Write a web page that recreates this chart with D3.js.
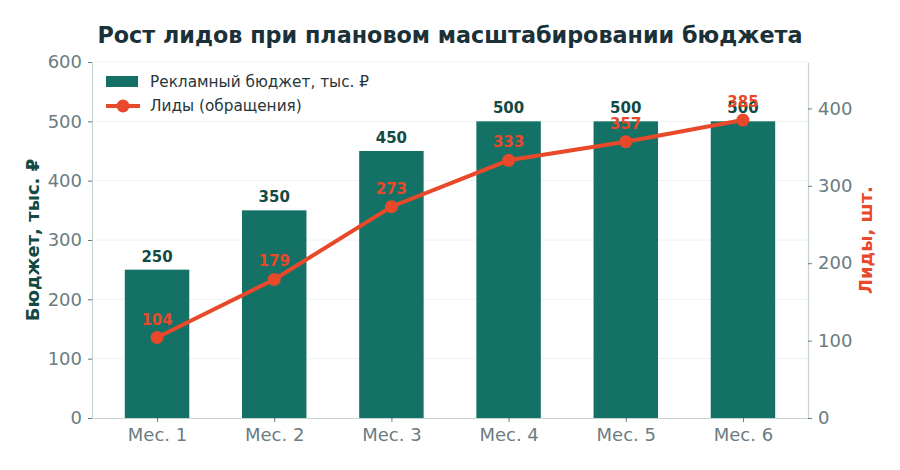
<!DOCTYPE html>
<html>
<head>
<meta charset="utf-8">
<script src="https://cdn.jsdelivr.net/npm/d3@7"></script>
<style>
  body { margin: 0; background: #fff; }
  svg { font-family: 'DejaVu Sans', sans-serif; }
</style>
</head>
<body>
<div class="chart"></div>
<script>
const months = ['Мес. 1', 'Мес. 2', 'Мес. 3', 'Мес. 4', 'Мес. 5', 'Мес. 6'];
const budget = [250, 350, 450, 500, 500, 500];
const leads = [104, 179, 273, 333, 357, 385];
const budgetTicks = [0, 100, 200, 300, 400, 500, 600];
const leadTicks = [0, 100, 200, 300, 400];

const width = 900;
const height = 470;
const margin = { top: 62, right: 92, bottom: 52, left: 92 };
const innerW = width - margin.left - margin.right;
const innerH = height - margin.top - margin.bottom;

const barColor = '#137265';
const lineColor = '#e8492b';
const tickColor = '#6b7c82';
const spineColor = '#c5d3d1';

const svg = d3
  .select('.chart')
  .append('svg')
  .attr('width', width)
  .attr('height', height);

const g = svg.append('g').attr('transform', `translate(${margin.left}, ${margin.top})`);

// x is linear over index, like matplotlib's categorical axis
const x = d3.scaleLinear().domain([-0.555, months.length - 1 + 0.555]).range([0, innerW]);
const step = x(1) - x(0);
const barW = step * 0.55;

const yL = d3.scaleLinear().domain([0, 600]).range([innerH, 0]);
const yR = d3.scaleLinear().domain([0, 460]).range([innerH, 0]);

// grid
g.selectAll('line.grid')
  .data(budgetTicks.slice(1))
  .enter()
  .append('line')
  .attr('x1', 0)
  .attr('x2', innerW)
  .attr('y1', (d) => yL(d))
  .attr('y2', (d) => yL(d))
  .attr('stroke', '#eef2f1')
  .attr('stroke-width', 1);

// bars
g.selectAll('rect.bar')
  .data(budget)
  .enter()
  .append('rect')
  .attr('x', (d, i) => x(i) - barW / 2)
  .attr('y', (d) => yL(d))
  .attr('width', barW)
  .attr('height', (d) => innerH - yL(d))
  .attr('fill', barColor);

// axes
const styleAxis = (sel) => {
  sel.select('.domain').attr('stroke', spineColor).attr('stroke-width', 1.2);
  sel.selectAll('.tick line').attr('stroke', tickColor);
  sel.selectAll('.tick text').attr('fill', tickColor).attr('font-size', '18px')
    .attr('font-family', "'DejaVu Sans', sans-serif");
};

g.append('g')
  .attr('transform', `translate(0, ${innerH})`)
  .call(d3.axisBottom(x).tickValues(d3.range(months.length)).tickFormat((i) => months[i])
    .tickSize(4).tickPadding(6).tickSizeOuter(0))
  .call(styleAxis);

g.append('g')
  .call(d3.axisLeft(yL).tickValues(budgetTicks).tickSize(4).tickPadding(6).tickSizeOuter(0))
  .call(styleAxis);

g.append('g')
  .attr('transform', `translate(${innerW}, 0)`)
  .call(d3.axisRight(yR).tickValues(leadTicks).tickSize(4).tickPadding(6).tickSizeOuter(0))
  .call(styleAxis);

// line
const line = d3.line().x((d, i) => x(i)).y((d) => yR(d));

g.append('path')
  .datum(leads)
  .attr('d', line)
  .attr('fill', 'none')
  .attr('stroke', lineColor)
  .attr('stroke-width', 4);

g.selectAll('circle.pt')
  .data(leads)
  .enter()
  .append('circle')
  .attr('cx', (d, i) => x(i))
  .attr('cy', (d) => yR(d))
  .attr('r', 6.5)
  .attr('fill', lineColor);

// bar value labels
g.selectAll('text.bval')
  .data(budget)
  .enter()
  .append('text')
  .attr('x', (d, i) => x(i))
  .attr('y', (d) => yL(d) - 8)
  .attr('text-anchor', 'middle')
  .attr('font-size', '15px')
  .attr('font-weight', 'bold')
  .attr('fill', '#134a43')
  .text((d) => d);

// lead value labels
g.selectAll('text.lval')
  .data(leads)
  .enter()
  .append('text')
  .attr('x', (d, i) => x(i))
  .attr('y', (d) => yR(d) - 13)
  .attr('text-anchor', 'middle')
  .attr('font-size', '15px')
  .attr('font-weight', 'bold')
  .attr('fill', lineColor)
  .text((d) => d);

// title
svg.append('text')
  .attr('x', width / 2)
  .attr('y', 43)
  .attr('text-anchor', 'middle')
  .attr('font-size', '22.3px')
  .attr('font-weight', 'bold')
  .attr('fill', '#1b3139')
  .text('Рост лидов при плановом масштабировании бюджета');

// axis titles
svg.append('text')
  .attr('transform', `translate(39, ${margin.top + innerH / 2}) rotate(-90)`)
  .attr('text-anchor', 'middle')
  .attr('font-size', '18px')
  .attr('font-weight', 'bold')
  .attr('fill', '#134a43')
  .text('Бюджет, тыс. ₽');

svg.append('text')
  .attr('transform', `translate(872, ${margin.top + innerH / 2}) rotate(-90)`)
  .attr('text-anchor', 'middle')
  .attr('font-size', '18px')
  .attr('font-weight', 'bold')
  .attr('fill', lineColor)
  .text('Лиды, шт.');

// legend
const legend = g.append('g').attr('transform', 'translate(14, 12)');
legend.append('rect')
  .attr('x', 0).attr('y', 2).attr('width', 32).attr('height', 11)
  .attr('fill', barColor);
legend.append('text')
  .attr('x', 44).attr('y', 13)
  .attr('font-size', '15.3px').attr('fill', '#26363b')
  .text('Рекламный бюджет, тыс. ₽');
legend.append('line')
  .attr('x1', 0).attr('x2', 34).attr('y1', 32).attr('y2', 32)
  .attr('stroke', lineColor).attr('stroke-width', 4);
legend.append('circle')
  .attr('cx', 17).attr('cy', 32).attr('r', 6.5).attr('fill', lineColor);
legend.append('text')
  .attr('x', 44).attr('y', 37)
  .attr('font-size', '15.3px').attr('fill', '#26363b')
  .text('Лиды (обращения)');
</script>
</body>
</html>
